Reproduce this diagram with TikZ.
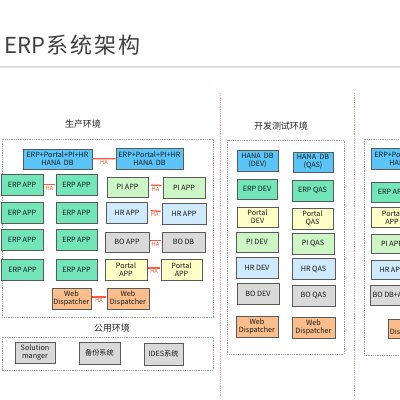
\documentclass[tikz,border=0pt]{standalone}
\usepackage{fontspec}
\setmainfont{Noto Sans CJK SC}
\definecolor{boxline}{HTML}{5A5A5A}
\definecolor{hanafill}{HTML}{5BC5F7}
\definecolor{erpfill}{HTML}{72E6B8}
\definecolor{pifill}{HTML}{CDF5C6}
\definecolor{hrfill}{HTML}{CFEAFC}
\definecolor{bofill}{HTML}{D9D9D9}
\definecolor{portalfill}{HTML}{FFFFC8}
\definecolor{webfill}{HTML}{F9BE8C}
\definecolor{hared}{HTML}{FF5A3C}
\definecolor{framegray}{HTML}{A0A0A0}
\definecolor{seppink}{HTML}{F2A0A0}
\definecolor{titlegray}{HTML}{404040}
\definecolor{rulelav}{HTML}{E2DCE6}
\begin{document}
\begin{tikzpicture}[
  x=1pt, y=-1pt,
  box/.style={draw=boxline, line width=0.7pt, inner sep=1pt, align=center,
    minimum width=42pt, minimum height=21pt, text=black!90,
    font=\fontsize{7.2}{8}\selectfont},
  hanabox/.style={box, fill=hanafill},
  erpbox/.style={box, fill=erpfill},
  pibox/.style={box, fill=pifill},
  hrbox/.style={box, fill=hrfill},
  bobox/.style={box, fill=bofill},
  portalbox/.style={box, fill=portalfill},
  webbox/.style={box, fill=webfill},
  frame/.style={draw=framegray, densely dotted, line width=0.8pt},
  sepline/.style={draw=seppink, densely dotted, line width=0.8pt},
  haline/.style={draw=hared, line width=1.3pt, shorten <=1pt, shorten >=1pt},
  halabel/.style={below=0.5pt, text=hared, inner sep=0.5pt, font=\fontsize{5.8}{6}\selectfont},
  envtitle/.style={font=\fontsize{9}{10}\selectfont, text=black!85}
]
  \useasboundingbox (0,0) rectangle (400,400);

  % Titel
  \node[anchor=west, text=titlegray, font=\fontsize{22}{24}\selectfont, inner sep=0pt]
    (title) at (4,45) {ERP\kern1pt 系\kern2pt 统\kern2pt 架\kern2pt 构};
  \draw[rulelav, line width=2pt] (0,67) -- (400,67);

  % Trennlinien
  \draw[sepline] (220,93) -- (220,396);
  \draw[sepline] (354,93) -- (354,396);

  % Rahmen
  \draw[frame] (2,139) rectangle (213,317);
  \draw[frame] (2,337) rectangle (213,370);
  \draw[frame] (227,140) rectangle (344,354);
  \draw[frame] (364,139) rectangle (420,355);

  \node[envtitle] (prdtitle) at (83,124) {生产环境};
  \node[envtitle] (pubtitle) at (112,328) {公用环境};
  \node[envtitle] (devtitle) at (281,126) {开发测试环境};

  % Produktion
  \node[hanabox, minimum width=69pt, minimum height=20pt] (hanaA) at (57.5,159) {ERP+Portal+PI+HR\\HANA\ \ DB};
  \node[hanabox, minimum width=67pt] (hanaB) at (149.5,158.5) {ERP+Portal+PI+HR\\HANA\ \ DB};

  \node[erpbox] (erpA1) at (22,184.5) {ERP APP};
  \node[erpbox, minimum width=41pt] (erpB1) at (76.5,184.5) {ERP APP};
  \node[erpbox] (erpA2) at (22,212.5) {ERP APP};
  \node[erpbox, minimum width=41pt] (erpB2) at (76.5,212.5) {ERP APP};
  \node[erpbox] (erpA3) at (22,239.5) {ERP APP};
  \node[erpbox, minimum width=41pt] (erpB3) at (76.5,239.5) {ERP APP};
  \node[erpbox] (erpA4) at (22.5,269.5) {ERP APP};
  \node[erpbox, minimum width=41pt] (erpB4) at (76.5,269.5) {ERP APP};

  \node[pibox, minimum width=41pt, minimum height=20pt] (piA) at (127.5,187) {PI APP};
  \node[pibox] (piB) at (184,187.5) {PI APP};
  \node[hrbox, minimum width=41pt] (hrA) at (127,212.5) {HR APP};
  \node[hrbox, minimum width=44pt] (hrB) at (184,213.5) {HR APP};
  \node[bobox, minimum width=44pt, minimum height=20pt] (boA) at (127,242) {BO APP};
  \node[bobox, minimum width=43pt, minimum height=20pt] (boDb) at (183.5,242) {BO DB};
  \node[portalbox] (portalA) at (126,269.5) {Portal\\APP};
  \node[portalbox, minimum width=41pt] (portalB) at (181.5,269.5) {Portal\\APP};
  \node[webbox, minimum width=39pt] (webA) at (71.5,298.5) {Web\\Dispatcher};
  \node[webbox] (webB) at (128,298.5) {Web\\Dispatcher};

  % HA
  \draw[haline, shorten <=0pt, shorten >=0pt] (hanaA) -- node[halabel] {HA} (hanaB);
  \draw[haline] (erpA1) -- node[halabel] {HA} (erpB1);
  \draw[haline, shorten <=3pt, shorten >=1pt] ([yshift=2pt]piA.east) -- node[halabel] {HA} ([yshift=2pt]piB.west);
  \draw[haline, shorten <=3pt, shorten >=1pt] ([yshift=2pt]hrA.east) -- node[halabel] {HA} ([yshift=2pt]hrB.west);
  \draw[haline] ([yshift=1.5pt]boA.east) -- node[halabel] {HA} ([yshift=1.5pt]boDb.west);
  \draw[haline] ([yshift=1.5pt]portalA.east) -- node[halabel] {HA} ([yshift=1.5pt]portalB.west);
  \draw[haline] ([yshift=1.5pt]webA.east) -- node[halabel] {HA} ([yshift=1.5pt]webB.west);

  % Gemeinsam
  \node[bobox, minimum width=40pt] (solman) at (35,352.5) {Solution\\manger};
  \node[bobox, minimum width=41pt, minimum height=22pt] (backup) at (99.5,353) {备份系统};
  \node[bobox, minimum width=39pt, minimum height=22pt] (ides) at (163.5,354) {IDES系统};

  % Entwicklung / Test
  \node[hanabox, minimum width=41pt] (hanaDev) at (257.5,160.5) {HANA\ \ DB\\(DEV)};
  \node[hanabox, minimum width=40pt, minimum height=20pt] (hanaQas) at (313,162) {HANA\ \ DB\\(QAS)};
  \node[erpbox, minimum width=40pt, minimum height=20pt] (erpDev) at (257,189) {ERP DEV};
  \node[erpbox, minimum width=41pt] (erpQas) at (312.5,190.5) {ERP QAS};
  \node[portalbox, minimum width=41pt, minimum height=20pt] (portalDev) at (257.5,217) {Portal\\DEV};
  \node[portalbox, minimum width=41pt] (portalQas) at (312.5,218.5) {Portal\\QAS};
  \node[pibox, minimum height=20pt] (piDev) at (257,242) {PI DEV};
  \node[pibox] (piQas) at (313,243.5) {PI QAS};
  \node[hrbox] (hrDev) at (257,267.5) {HR DEV};
  \node[hrbox, minimum width=43pt] (hrQas) at (313.5,269) {HR QAS};
  \node[bobox] (boDev) at (258,293.5) {BO DEV};
  \node[bobox, minimum width=43pt] (boQas) at (313.5,295.5) {BO QAS};
  \node[webbox] (webDev) at (257,326.5) {Web\\Dispatcher};
  \node[webbox, minimum width=43pt] (webQas) at (313.5,327.5) {Web\\Dispatcher};

  % dritte Spalte (angeschnitten)
  \node[hanabox, minimum width=69pt] (hanaC) at (405.5,158.5) {ERP+Portal+PI+HR\\HANA\ \ DB};
  \node[erpbox, minimum height=20pt] (erpC) at (392,192) {ERP APP};
  \node[portalbox, minimum height=20pt] (portalC) at (392,217.5) {Portal\\APP};
  \node[pibox, minimum height=19pt] (piC) at (392,244) {PI APP};
  \node[hrbox, minimum height=19pt] (hrC) at (392,269.5) {HR APP};
  \node[bobox, minimum width=44pt, minimum height=20pt] (boC) at (392,295) {BO DB+APP};
  \node[webbox, minimum width=40pt, minimum height=19pt] (webC) at (408,328.5) {Web\\Dispatcher};
\end{tikzpicture}
\end{document}
